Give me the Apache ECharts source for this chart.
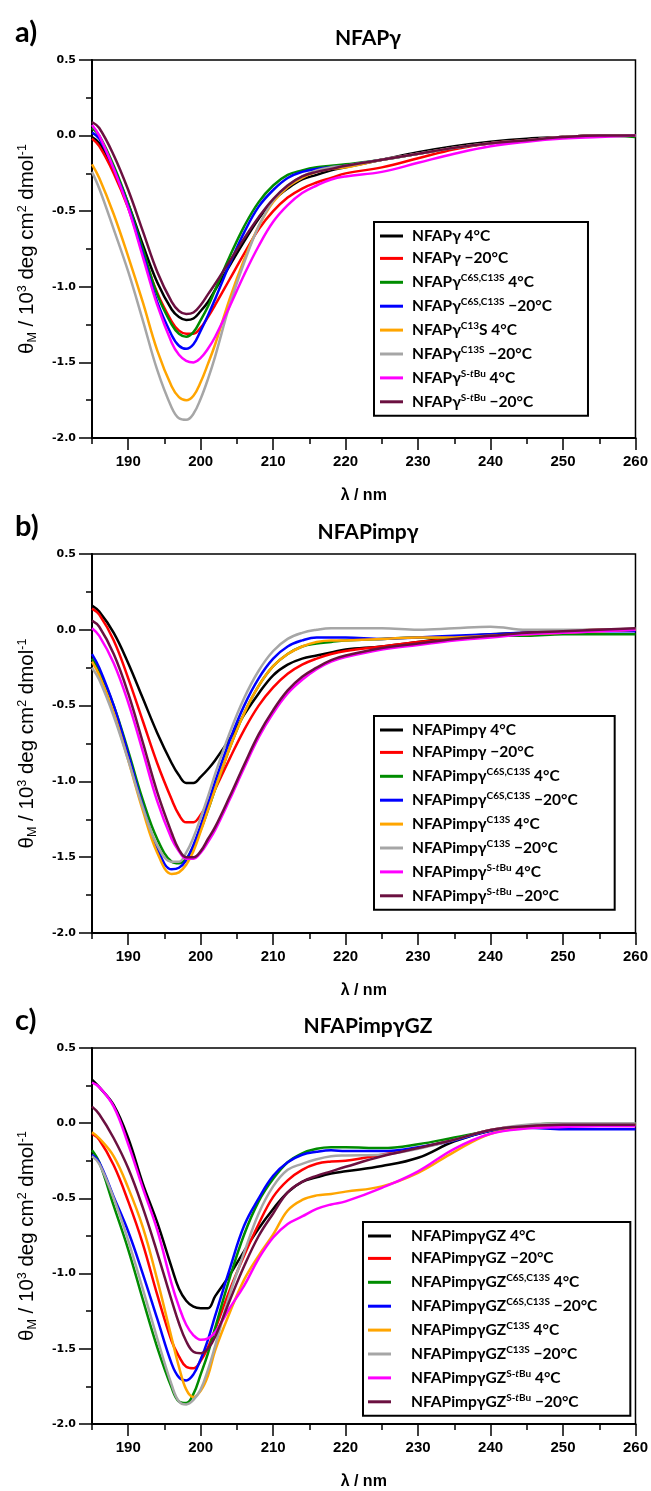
<!DOCTYPE html>
<html>
<head>
<meta charset="utf-8">
<script src="https://cdn.jsdelivr.net/npm/echarts@6/dist/echarts.min.js"></script>
<style>
html,body{margin:0;padding:0;background:#fff}
#main{width:651px;height:1491px}
</style>
</head>
<body>
<div id="main"></div>
<script>
// wavelength grid (nm) shared by all spectra
var wavelength = [185,186,188,190,192,194,196,197,198,199,200,201,202,204,206,208,210,212,214,216,218,220,225,230,235,240,245,250,255,260];
var xMajorTicks = [190,200,210,220,230,240,250,260];
var xMinorTicks = [185,195,205,215,225,235,245,255];

// a) NFAPγ
var aBlack   = [-0.01,-0.05,-0.22,-0.45,-0.72,-0.97,-1.15,-1.20,-1.22,-1.21,-1.16,-1.10,-1.02,-0.86,-0.70,-0.55,-0.43,-0.35,-0.29,-0.26,-0.23,-0.21,-0.16,-0.11,-0.07,-0.04,-0.02,-0.01,0.00,0.00];
var aRed     = [-0.02,-0.07,-0.25,-0.48,-0.77,-1.04,-1.23,-1.29,-1.31,-1.31,-1.27,-1.20,-1.12,-0.95,-0.78,-0.62,-0.50,-0.41,-0.35,-0.31,-0.28,-0.25,-0.21,-0.15,-0.09,-0.05,-0.03,-0.01,0.00,0.00];
var aGreen   = [0.05,0.00,-0.20,-0.45,-0.75,-1.05,-1.25,-1.31,-1.33,-1.30,-1.22,-1.13,-1.02,-0.80,-0.60,-0.44,-0.33,-0.26,-0.23,-0.21,-0.20,-0.19,-0.16,-0.12,-0.08,-0.05,-0.03,-0.01,0.00,-0.01];
var aBlue    = [0.02,-0.02,-0.22,-0.47,-0.78,-1.10,-1.32,-1.39,-1.41,-1.38,-1.29,-1.19,-1.08,-0.85,-0.64,-0.47,-0.36,-0.28,-0.24,-0.22,-0.21,-0.20,-0.16,-0.12,-0.08,-0.05,-0.03,-0.01,0.00,0.00];
var aOrange  = [-0.19,-0.28,-0.52,-0.80,-1.10,-1.42,-1.66,-1.73,-1.75,-1.72,-1.63,-1.51,-1.38,-1.08,-0.82,-0.60,-0.44,-0.34,-0.28,-0.24,-0.22,-0.21,-0.16,-0.12,-0.08,-0.05,-0.03,-0.01,0.00,0.00];
var aGray    = [-0.24,-0.35,-0.62,-0.90,-1.22,-1.55,-1.80,-1.87,-1.88,-1.84,-1.74,-1.61,-1.46,-1.12,-0.84,-0.60,-0.43,-0.33,-0.27,-0.23,-0.21,-0.20,-0.16,-0.12,-0.08,-0.05,-0.03,-0.01,0.00,0.00];
var aMagenta = [0.07,0.00,-0.22,-0.48,-0.80,-1.12,-1.37,-1.45,-1.49,-1.50,-1.47,-1.41,-1.33,-1.13,-0.92,-0.73,-0.57,-0.46,-0.38,-0.33,-0.29,-0.27,-0.24,-0.18,-0.12,-0.07,-0.04,-0.02,-0.01,0.00];
var aMaroon  = [0.09,0.05,-0.13,-0.36,-0.63,-0.90,-1.10,-1.16,-1.18,-1.17,-1.12,-1.05,-0.98,-0.83,-0.68,-0.54,-0.42,-0.33,-0.27,-0.24,-0.22,-0.20,-0.16,-0.12,-0.08,-0.05,-0.03,-0.01,0.00,0.00];

// b) NFAPimpγ
var bBlack   = [0.16,0.12,-0.02,-0.22,-0.45,-0.68,-0.88,-0.96,-1.01,-1.01,-0.97,-0.92,-0.86,-0.72,-0.56,-0.42,-0.30,-0.23,-0.19,-0.17,-0.15,-0.13,-0.11,-0.08,-0.05,-0.03,-0.02,-0.01,0.00,0.00];
var bRed     = [0.14,0.10,-0.07,-0.32,-0.60,-0.88,-1.12,-1.22,-1.27,-1.27,-1.22,-1.14,-1.05,-0.85,-0.66,-0.50,-0.38,-0.29,-0.23,-0.19,-0.16,-0.14,-0.11,-0.08,-0.06,-0.04,-0.02,-0.01,0.00,0.00];
var bGreen   = [-0.19,-0.27,-0.50,-0.80,-1.12,-1.38,-1.53,-1.54,-1.51,-1.43,-1.32,-1.19,-1.05,-0.78,-0.55,-0.37,-0.24,-0.16,-0.11,-0.09,-0.08,-0.07,-0.06,-0.05,-0.05,-0.04,-0.04,-0.03,-0.03,-0.03];
var bBlue    = [-0.16,-0.25,-0.50,-0.82,-1.16,-1.44,-1.58,-1.57,-1.52,-1.42,-1.29,-1.15,-1.00,-0.73,-0.50,-0.32,-0.19,-0.11,-0.07,-0.05,-0.05,-0.05,-0.06,-0.05,-0.04,-0.03,-0.02,-0.02,-0.01,-0.01];
var bOrange  = [-0.21,-0.30,-0.55,-0.86,-1.19,-1.47,-1.61,-1.60,-1.55,-1.46,-1.33,-1.19,-1.05,-0.78,-0.55,-0.37,-0.24,-0.16,-0.11,-0.08,-0.07,-0.07,-0.06,-0.05,-0.05,-0.04,-0.03,-0.02,-0.01,0.00];
var bGray    = [-0.25,-0.33,-0.57,-0.86,-1.17,-1.42,-1.53,-1.53,-1.47,-1.37,-1.24,-1.10,-0.95,-0.68,-0.45,-0.27,-0.14,-0.06,-0.02,0.00,0.01,0.01,0.01,0.00,0.01,0.02,0.00,0.00,0.00,0.01];
var bMagenta = [0.01,-0.04,-0.22,-0.48,-0.80,-1.13,-1.38,-1.46,-1.51,-1.51,-1.47,-1.40,-1.32,-1.12,-0.91,-0.71,-0.55,-0.42,-0.33,-0.26,-0.21,-0.18,-0.13,-0.10,-0.07,-0.05,-0.03,-0.02,-0.01,0.00];
var bMaroon  = [0.06,0.02,-0.16,-0.42,-0.74,-1.07,-1.34,-1.45,-1.50,-1.50,-1.46,-1.38,-1.30,-1.10,-0.89,-0.69,-0.53,-0.40,-0.31,-0.25,-0.20,-0.17,-0.12,-0.09,-0.06,-0.04,-0.02,-0.01,0.00,0.01];

// c) NFAPimpγGZ
var cBlack   = [0.29,0.24,0.12,-0.10,-0.40,-0.66,-0.96,-1.10,-1.18,-1.22,-1.23,-1.23,-1.15,-1.01,-0.85,-0.70,-0.57,-0.46,-0.39,-0.36,-0.335,-0.32,-0.285,-0.23,-0.12,-0.05,-0.02,-0.01,0.00,0.00];
var cRed     = [-0.07,-0.11,-0.28,-0.52,-0.80,-1.14,-1.45,-1.55,-1.62,-1.63,-1.58,-1.49,-1.37,-1.11,-0.88,-0.67,-0.49,-0.38,-0.31,-0.27,-0.255,-0.25,-0.21,-0.165,-0.11,-0.045,-0.02,-0.01,-0.01,-0.01];
var cGreen   = [-0.18,-0.26,-0.55,-0.84,-1.17,-1.49,-1.76,-1.85,-1.86,-1.80,-1.67,-1.53,-1.36,-1.03,-0.74,-0.52,-0.37,-0.26,-0.20,-0.17,-0.16,-0.16,-0.165,-0.14,-0.095,-0.05,-0.015,0.00,0.00,0.00];
var cBlue    = [-0.21,-0.26,-0.49,-0.72,-1.00,-1.30,-1.60,-1.69,-1.71,-1.67,-1.57,-1.44,-1.28,-0.97,-0.68,-0.50,-0.35,-0.26,-0.21,-0.19,-0.18,-0.185,-0.185,-0.16,-0.115,-0.05,-0.03,-0.04,-0.04,-0.04];
var cOrange  = [-0.06,-0.10,-0.22,-0.43,-0.69,-1.04,-1.43,-1.62,-1.77,-1.82,-1.78,-1.68,-1.51,-1.26,-1.04,-0.88,-0.74,-0.58,-0.51,-0.48,-0.47,-0.455,-0.42,-0.33,-0.19,-0.07,-0.03,-0.02,-0.01,-0.01];
var cGray    = [-0.22,-0.27,-0.50,-0.78,-1.10,-1.43,-1.74,-1.85,-1.87,-1.84,-1.77,-1.64,-1.48,-1.14,-0.86,-0.60,-0.42,-0.31,-0.27,-0.24,-0.22,-0.215,-0.21,-0.17,-0.11,-0.045,-0.01,0.00,0.00,0.00];
var cMagenta = [0.27,0.24,0.11,-0.14,-0.43,-0.71,-1.07,-1.22,-1.34,-1.41,-1.44,-1.43,-1.39,-1.23,-1.08,-0.90,-0.76,-0.67,-0.62,-0.57,-0.54,-0.52,-0.43,-0.32,-0.17,-0.07,-0.035,-0.025,-0.02,-0.02];
var cMaroon  = [0.11,0.06,-0.10,-0.30,-0.56,-0.86,-1.18,-1.33,-1.45,-1.52,-1.53,-1.50,-1.42,-1.18,-0.95,-0.75,-0.60,-0.46,-0.39,-0.35,-0.32,-0.29,-0.22,-0.165,-0.11,-0.045,-0.02,-0.01,-0.01,-0.01];

var colors = ['#000000','#ff0000','#008c00','#0000ff','#ffa500','#a6a6a6','#ff00ff','#6b1040'];
// superscript / rest of each legend entry
var variantsA = [['',' 4°C'],['',' −20°C'],['C6S,C13S',' 4°C'],['C6S,C13S',' −20°C'],['C13','S 4°C'],['C13S',' −20°C'],['S-tBu',' 4°C'],['S-tBu',' −20°C']];
var variants  = [['',' 4°C'],['',' −20°C'],['C6S,C13S',' 4°C'],['C6S,C13S',' −20°C'],['C13S',' 4°C'],['C13S',' −20°C'],['S-tBu',' 4°C'],['S-tBu',' −20°C']];

var panels = [
  {label:'a)', name:'NFAPγ', top:60, height:378, values:[aBlack,aRed,aGreen,aBlue,aOrange,aGray,aMagenta,aMaroon], variants:variantsA, legendLeft:374, legendTop:222, gap:4, pad:[6,36,6,6]},
  {label:'b)', name:'NFAPimpγ', top:554, height:379, values:[bBlack,bRed,bGreen,bBlue,bOrange,bGray,bMagenta,bMaroon], variants:variants, legendLeft:374, legendTop:716, gap:4, pad:[6,37,6,6]},
  {label:'c)', name:'NFAPimpγGZ', top:1048, height:380, values:[cBlack,cRed,cGreen,cBlue,cOrange,cGray,cMagenta,cMaroon], variants:variants, legendLeft:363, legendTop:1222, gap:15, pad:[6,33,6,5]}
];

var FONT_LEG = 'Lato, "Noto Sans", sans-serif';
var FONT_AX = '"Liberation Sans", Arial, sans-serif';

function supRich(s) {
  if (s.indexOf('t') >= 0) {
    var i = s.indexOf('t');
    return '{s|' + s.slice(0, i) + '}{si|t}{s|' + s.slice(i + 1) + '}';
  }
  return '{s|' + s + '}';
}

var richLabels = {};
var option = {
  backgroundColor: '#fff',
  animation: false,
  title: [],
  grid: [],
  xAxis: [],
  yAxis: [],
  legend: [],
  series: []
};

panels.forEach(function (p, i) {
  var off = p.top - 60;
  option.title.push({text: p.label, left: 10, top: 13 + off, textStyle: {fontFamily: FONT_LEG, fontWeight: 'bold', fontSize: 29, color: '#000'}});
  option.title.push({text: p.name, left: 363, top: 23 + off, textAlign: 'center', textStyle: {fontFamily: FONT_LEG, fontWeight: 'bold', fontSize: 21, color: '#000'}});

  option.grid.push({left: 92, right: 15, top: p.top, height: p.height, show: true, borderColor: '#000', borderWidth: 1.5, backgroundColor: 'transparent'});

  // main x axis: line, labels and long ticks every 10 nm
  option.xAxis.push({
    type: 'value', gridIndex: i, min: 185, max: 260, interval: 5,
    name: 'λ / nm', nameLocation: 'middle', nameGap: 50,
    nameTextStyle: {fontFamily: FONT_AX, fontWeight: 'bold', fontSize: 16, color: '#000'},
    axisLine: {show: true, onZero: false, lineStyle: {color: '#000', width: 2}},
    axisTick: {show: true, length: 12, customValues: xMajorTicks, lineStyle: {color: '#000', width: 1.5}},
    axisLabel: {show: true, customValues: xMajorTicks, margin: 16, fontFamily: FONT_AX, fontWeight: 'bold', fontSize: 15, color: '#000',
      formatter: function (v) { return v % 10 === 0 ? String(v) : ''; }},
    splitLine: {show: false}
  });
  // overlay axis: short ticks at the odd 5 nm positions
  option.xAxis.push({
    type: 'value', gridIndex: i, min: 185, max: 260, interval: 5, position: 'bottom',
    axisLine: {show: false, onZero: false},
    axisTick: {show: true, inside: false, length: 6, customValues: xMinorTicks, lineStyle: {color: '#000', width: 1.5}},
    axisLabel: {show: false},
    splitLine: {show: false}
  });

  option.yAxis.push({
    type: 'value', gridIndex: i, min: -2, max: 0.5, interval: 0.5,
    name: '{t|θ}{sub|M}{t| / 10}{sup|3}{t| deg cm}{sup|2}{t| dmol}{sup|-1}',
    nameLocation: 'middle', nameGap: 53, nameRotate: 90,
    nameTextStyle: {color: '#000', rich: {
      t: {fontFamily: FONT_AX, fontSize: 20.5, lineHeight: 23, color: '#000'},
      sub: {fontFamily: FONT_AX, fontSize: 12.5, lineHeight: 10, verticalAlign: 'bottom', color: '#000'},
      sup: {fontFamily: FONT_AX, fontSize: 12.5, lineHeight: 11, verticalAlign: 'top', color: '#000'}
    }},
    axisLine: {show: true, onZero: false, lineStyle: {color: '#000', width: 2}},
    axisTick: {show: true, length: 13, lineStyle: {color: '#000', width: 1.5}},
    minorTick: {show: true, splitNumber: 2, length: 6, lineStyle: {color: '#000', width: 1.5}},
    axisLabel: {margin: 16, fontFamily: '"DejaVu Sans", sans-serif', fontWeight: 'bold', fontSize: 11, color: '#000',
      formatter: function (v) { return v.toFixed(1); }},
    splitLine: {show: false},
    minorSplitLine: {show: false}
  });

  var names = [];
  p.values.forEach(function (vals, k) {
    var vr = p.variants[k];
    var nm = p.name + (vr[0] ? '^' + vr[0] : '') + vr[1];
    names.push(nm);
    richLabels[nm] = '{g| }{b|' + p.name + '}' + (vr[0] ? supRich(vr[0]) : '') + '{b|' + vr[1] + '}';
    option.series.push({
      name: nm, type: 'line', xAxisIndex: 2 * i, yAxisIndex: i,
      data: wavelength.map(function (w, j) { return [w, vals[j]]; }),
      smooth: 0.4, showSymbol: false, symbol: 'none',
      lineStyle: {color: colors[k], width: 2.5},
      itemStyle: {color: colors[k]},
      z: 2 + k
    });
  });

  option.legend.push({
    data: names, orient: 'vertical', left: p.legendLeft, top: p.legendTop,
    selectedMode: false, icon: 'rect', itemWidth: 23, itemHeight: 3, itemGap: 6.4,
    padding: p.pad, borderColor: '#000', borderWidth: 2, backgroundColor: '#fff',
    formatter: function (n) { return richLabels[n]; },
    textStyle: {color: '#000', rich: {
      g: {width: p.gap, fontSize: 15.5, lineHeight: 19},
      b: {fontFamily: FONT_LEG, fontWeight: 'bold', fontSize: 15.5, lineHeight: 19, color: '#000'},
      s: {fontFamily: FONT_LEG, fontWeight: 'bold', fontSize: 10, lineHeight: 11, verticalAlign: 'top', color: '#000'},
      si: {fontFamily: FONT_LEG, fontWeight: 'bold', fontStyle: 'italic', fontSize: 10, lineHeight: 11, verticalAlign: 'top', color: '#000'}
    }}
  });
});

var myChart = echarts.init(document.getElementById('main'));
myChart.setOption(option);
window.addEventListener('resize', function () {
  myChart.resize();
});
</script>
</body>
</html>
